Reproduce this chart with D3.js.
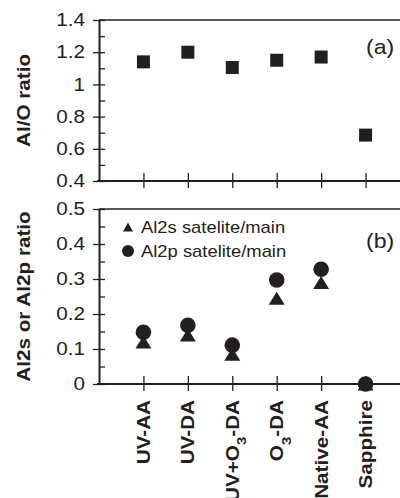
<!DOCTYPE html>
<html>
<head>
<meta charset="utf-8">
<script src="https://cdn.jsdelivr.net/npm/d3@7"></script>
<style>
  body { margin: 0; background: #fff; }
  text { font-family: "Liberation Sans", Arial, sans-serif; fill: #231f20; }
</style>
</head>
<body>
<div id="chart"></div>
<script>
// values
const categories = ["UV-AA", "UV-DA", "UV+O3-DA", "O3-DA", "Native-AA", "Sapphire"];
const alORatio = [1.14, 1.20, 1.105, 1.15, 1.17, 0.685];
const al2sRatio = [0.12, 0.14, 0.085, 0.245, 0.29, 0.0];
const al2pRatio = [0.148, 0.168, 0.111, 0.297, 0.328, 0.0];
const topTicks = [0.4, 0.6, 0.8, 1, 1.2, 1.4];
const topMinor = [0.5, 0.7, 0.9, 1.1, 1.3];
const bottomTicks = [0, 0.1, 0.2, 0.3, 0.4, 0.5];
const bottomMinor = [0.05, 0.15, 0.25, 0.35, 0.45];
const seriesNames = ["Al2s satelite/main", "Al2p satelite/main"];

(() => {
  var W = 400, H = 498;
  var ink = '#231f20';
  var sx = 1.15; // the figure's lettering is a little wider than Arial

  var svg = d3.select('#chart').append('svg')
    .attr('width', W).attr('height', H);

  var x = d3.scaleLinear().domain([0, 7]).range([99, 410]);
  var idx = d3.range(1, categories.length + 1);

  var yTop = d3.scaleLinear().domain([0.4, 1.4]).range([181, 20]);
  var yBot = d3.scaleLinear().domain([0, 0.5]).range([384, 209]);

  function triPath(w, h) {
    return 'M0,' + (-h / 2) + 'L' + (w / 2) + ',' + (h / 2) + 'L' + (-w / 2) + ',' + (h / 2) + 'Z';
  }

  function panel(y, ticks, minor, fmt) {
    var g = svg.append('g');
    var r = y.range();
    // frame top line
    g.append('line')
      .attr('x1', x(0)).attr('x2', x(7))
      .attr('y1', r[1]).attr('y2', r[1])
      .attr('stroke', ink).attr('stroke-width', 1.4);

    // minor y ticks (inside)
    g.append('g')
      .attr('transform', 'translate(' + x(0) + ',0)')
      .call(d3.axisLeft(y).tickValues(minor).tickSize(-6).tickFormat(''))
      .call(a => a.select('.domain').remove())
      .selectAll('line').attr('stroke', ink).attr('stroke-width', 1.3);

    // major y ticks crossing the axis
    var ya = g.append('g')
      .attr('transform', 'translate(' + x(0) + ',0)')
      .call(d3.axisLeft(y).tickValues(ticks).tickSize(6).tickSizeOuter(0).tickPadding(14).tickFormat(fmt));
    ya.select('.domain').attr('stroke', ink).attr('stroke-width', 2);
    ya.selectAll('.tick line').attr('x1', 6).attr('stroke', ink).attr('stroke-width', 1.3);
    ya.selectAll('.tick text')
      .attr('x', -14 / sx)
      .attr('transform', 'scale(' + sx + ',1)')
      .style('font-size', '18px')
      .attr('fill', ink);

    // x axis with crossing ticks
    var xa = g.append('g')
      .attr('transform', 'translate(0,' + r[0] + ')')
      .call(d3.axisBottom(x).tickValues(idx).tickSize(7).tickSizeOuter(0).tickFormat(''));
    xa.select('.domain').attr('stroke', ink).attr('stroke-width', 2)
      .attr('d', 'M' + (x(0) - 2) + ',0H' + x(7));
    xa.selectAll('.tick line').attr('y1', -8).attr('stroke', ink).attr('stroke-width', 1.3);
    return g;
  }

  panel(yTop, topTicks, topMinor, d3.format('~g'));
  panel(yBot, bottomTicks, bottomMinor, d3.format('~g'));

  // panel (a) squares
  svg.append('g').selectAll('rect')
    .data(alORatio)
    .enter().append('rect')
    .attr('x', (d, i) => x(i + 1) - 6.5)
    .attr('y', d => yTop(d) - 6.5)
    .attr('width', 13).attr('height', 13)
    .attr('fill', ink);

  // panel (b) triangles then circles on top
  svg.append('g').selectAll('path')
    .data(al2sRatio)
    .enter().append('path')
    .attr('d', triPath(16, 13))
    .attr('transform', (d, i) => 'translate(' + x(i + 1) + ',' + yBot(d) + ')')
    .attr('fill', ink);

  svg.append('g').selectAll('circle')
    .data(al2pRatio)
    .enter().append('circle')
    .attr('cx', (d, i) => x(i + 1))
    .attr('cy', d => yBot(d))
    .attr('r', 7.8)
    .attr('fill', ink);

  // legend
  var leg = svg.append('g');
  leg.append('path').attr('d', triPath(10, 9))
    .attr('transform', 'translate(128,227)').attr('fill', ink);
  leg.append('circle').attr('cx', 128).attr('cy', 251).attr('r', 6).attr('fill', ink);
  seriesNames.forEach(function (s, i) {
    leg.append('text')
      .attr('transform', 'translate(141,' + (233 + i * 24) + ') scale(' + sx + ',1)')
      .style('font-size', '16px')
      .text(s);
  });

  // panel letters
  [['(a)', 54], ['(b)', 248]].forEach(function (p) {
    svg.append('text')
      .attr('transform', 'translate(366,' + p[1] + ') scale(' + sx + ',1)')
      .style('font-size', '20px')
      .text(p[0]);
  });

  // y axis titles
  [['Al/O ratio', yTop], ['Al2s or Al2p ratio', yBot]].forEach(function (p) {
    var r = p[1].range();
    svg.append('text')
      .attr('transform', 'translate(30,' + ((r[0] + r[1]) / 2) + ') rotate(-90) scale(' + sx + ',1)')
      .attr('text-anchor', 'middle')
      .style('font-size', '18px')
      .style('font-weight', 'bold')
      .text(p[0]);
  });

  // category labels, rotated, with subscript 3 in O3
  categories.forEach(function (c, i) {
    var t = svg.append('text')
      .attr('transform', 'translate(' + x(i + 1) + ',400) rotate(-90) scale(' + sx + ',1)')
      .attr('text-anchor', 'end')
      .attr('dy', '0.36em')
      .style('font-size', '18px')
      .style('font-weight', 'bold');
    c.split(/(O3)/).forEach(function (part) {
      if (!part) return;
      if (part === 'O3') {
        t.append('tspan').text('O');
        t.append('tspan').attr('baseline-shift', 'sub').style('font-size', '13px').text('3');
      } else {
        t.append('tspan').text(part);
      }
    });
  });
})();
</script>
</body>
</html>
